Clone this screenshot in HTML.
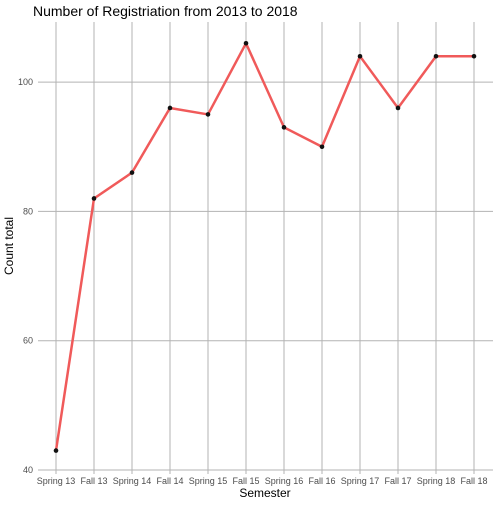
<!DOCTYPE html>
<html><head><meta charset="utf-8"><style>
body{margin:0;background:#fff;}
svg text{font-family:"Liberation Sans",sans-serif;}
</style></head><body>
<svg id="chart" width="504" height="504" xmlns="http://www.w3.org/2000/svg">
<text x="33" y="16" font-size="14" fill="#000">Number of Registriation from 2013 to 2018</text>
<text x="265" y="497" font-size="12" text-anchor="middle">Semester</text>
<text transform="translate(13,246) rotate(-90)" font-size="12" text-anchor="middle">Count total</text>
<g id="grid"></g><g id="marks"></g><g id="labels"></g>
</svg>
<script>
const categories=["Spring 13","Fall 13","Spring 14","Fall 14","Spring 15","Fall 15","Spring 16","Fall 16","Spring 17","Fall 17","Spring 18","Fall 18"];
const counts=[43,82,86,96,95,106,93,90,104,96,104,104];
const yTicks=[40,60,80,100];
const NS="http://www.w3.org/2000/svg";
function x(i){return 56+i*38;}
function y(v){return 470-(v-40)*6.465;}
function mk(t,a,p){const e=document.createElementNS(NS,t);for(const k in a)e.setAttribute(k,a[k]);p.appendChild(e);return e;}
const grid=document.getElementById('grid'),marks=document.getElementById('marks'),labels=document.getElementById('labels');
yTicks.forEach(v=>{
 const l=mk('line',{x1:38,x2:493,y1:y(v),y2:y(v),stroke:'#b3b3b3','stroke-width':1},grid);
 
 
 const t=mk('text',{x:33,y:y(v)+3,'font-size':9,'text-anchor':'end',fill:'#4d4d4d'},labels);
 t.textContent=v;
 
 
});
categories.forEach((c,i)=>{
 const l=mk('line',{x1:x(i),x2:x(i),y1:22,y2:474,stroke:'#b3b3b3','stroke-width':1},grid);
 
 
 const t=mk('text',{x:x(i),y:484,'font-size':9,'text-anchor':'middle',fill:'#4d4d4d'},labels);
 t.textContent=c;
 
 
});
const pl=mk('polyline',{points:counts.map((v,i)=>x(i)+','+y(v)).join(' '),fill:'none',stroke:'#f05a5a','stroke-width':2.5},marks);


counts.forEach((v,i)=>{
 const c=mk('circle',{cx:x(i),cy:y(v),r:2.3,fill:'#111'},marks);
 
 
});
</script>
</body></html>
